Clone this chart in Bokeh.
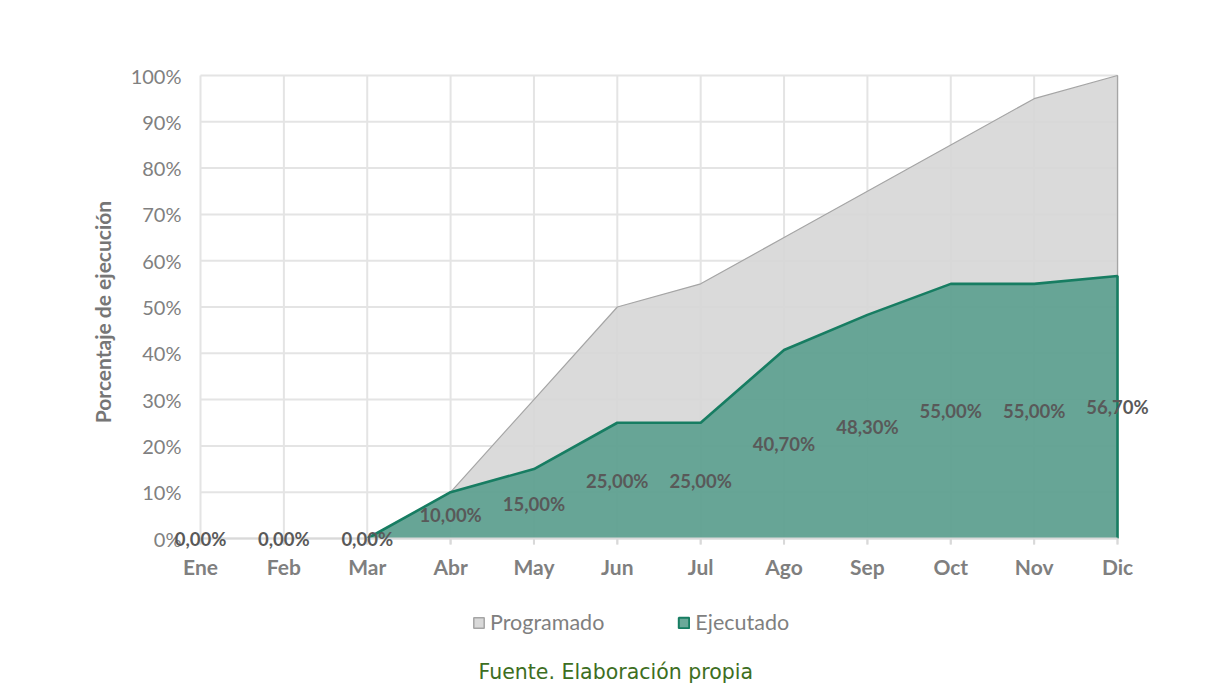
from bokeh.plotting import figure
from bokeh.models import (Range1d, FixedTicker, ColumnDataSource, LabelSet, Legend, LegendItem,
                          Label)
from bokeh.layouts import column
from bokeh.core.properties import value
from bokeh.embed import file_html
from bokeh.resources import INLINE

months = ["Ene", "Feb", "Mar", "Abr", "May", "Jun", "Jul", "Ago", "Sep", "Oct", "Nov", "Dic"]
programado = [0, 0, 0, 10, 30, 50, 55, 65, 75, 85, 95, 100]
ejecutado = [0, 0, 0, 10, 15, 25, 25, 40.7, 48.3, 55, 55, 56.7]
y_ticks = [0, 10, 20, 30, 40, 50, 60, 70, 80, 90, 100]
y_tick_labels = ["0%", "10%", "20%", "30%", "40%", "50%", "60%", "70%", "80%", "90%", "100%"]

FONT = "Lato"
x = list(range(len(months)))

# layout (page pixels)
W, H = 1214, 684
H1 = 590                     # chart block
H2 = H - H1                  # legend / source block
PLOT_L, PLOT_R, PLOT_T, PLOT_B = 200, 1117, 75, 538      # where Ene..Dic / 0..100 sit
PAD_L, PAD_R, PAD_T, PAD_B = 32, 40, 2, 12                # extra frame room for labels
TICK = 6                                                  # category tick length
px_per_x = (PLOT_R - PLOT_L) / (x[-1] - x[0])
px_per_y = (PLOT_B - PLOT_T) / (y_ticks[-1] - y_ticks[0])
x_range = Range1d(x[0] - PAD_L / px_per_x, x[-1] + PAD_R / px_per_x)
y_range = Range1d(y_ticks[0] - PAD_B / px_per_y, y_ticks[-1] + PAD_T / px_per_y)
FRAME_L = PLOT_L - PAD_L
FRAME_R = W - PLOT_R - PAD_R

# ---- chart ----
p = figure(width=W, height=H1, output_backend="svg", toolbar_location=None,
           x_range=x_range, y_range=y_range,
           min_border_left=FRAME_L, min_border_right=FRAME_R,
           min_border_top=PLOT_T - PAD_T, min_border_bottom=H1 - PLOT_B - PAD_B)
p.outline_line_color = None
p.background_fill_color = "white"
p.border_fill_color = "white"
p.grid.visible = False

# grid lines limited to the plot area (vertical ones run down as category ticks)
GRID = "#e4e4e4"
tick_low = y_ticks[0] - TICK / px_per_y
p.segment(x0=x, x1=x, y0=[tick_low] * len(x), y1=[y_ticks[-1]] * len(x),
          line_color=GRID, line_width=2)
p.segment(x0=[x[0]] * len(y_ticks), x1=[x[-1]] * len(y_ticks), y0=y_ticks, y1=y_ticks,
          line_color=GRID, line_width=2)

# areas
def polygon(vals):
    return x + [x[-1], x[0]], vals + [0, 0]

PROG_FILL, PROG_LINE = "#d9d9d9", "#a5a5a5"
EJEC_FILL, EJEC_LINE = "#6ba999", "#177d62"

prog_x, prog_y = polygon(programado)
p.patch(prog_x, prog_y, fill_color="#d6d6d6", fill_alpha=0.9, line_alpha=0)
ejec_x, ejec_y = polygon(ejecutado)
p.patch(ejec_x, ejec_y, fill_color="#5a9f8e", fill_alpha=0.9, line_alpha=0)

def outline(vals):
    start = next(i for i, v in enumerate(vals) if v > 0) - 1
    return x[start:] + [x[-1]], vals[start:] + [0]

ox, oy = outline(programado)
p.line(ox, oy, line_color=PROG_LINE, line_width=1.2)
ox, oy = outline(ejecutado)
p.line(ox, oy, line_color=EJEC_LINE, line_width=2.6)

# category axis base line and ticks
p.segment(x0=[x[0]], x1=[x[-1]], y0=[y_ticks[0]], y1=[y_ticks[0]], line_color="#d9d9d9", line_width=2)
p.segment(x0=x, x1=x, y0=[tick_low] * len(x), y1=[y_ticks[0]] * len(x),
          line_color="#d9d9d9", line_width=2)

# data labels
lab_src = ColumnDataSource(dict(
    x=x, y=[v / 2 for v in ejecutado],
    t=[("%.2f" % v).replace(".", ",") + "%" for v in ejecutado]))
p.add_layout(LabelSet(x="x", y="y", text="t", source=lab_src, text_align="center",
                      text_baseline="middle", text_font=value(FONT), text_font_style="bold",
                      text_font_size="18.5px", text_color="#595959"))

# axes
p.xaxis.ticker = FixedTicker(ticks=x)
p.yaxis.ticker = FixedTicker(ticks=y_ticks)
p.xaxis.major_label_overrides = {i: m for i, m in zip(x, months)}
p.yaxis.major_label_overrides = {t: l for t, l in zip(y_ticks, y_tick_labels)}
p.xaxis.axis_line_color = None
p.xaxis.major_tick_line_color = None
p.xaxis.major_tick_out = 0
p.xaxis.major_tick_in = 0
p.xaxis.minor_tick_line_color = None
p.xaxis.major_label_text_font = FONT
p.xaxis.major_label_text_font_style = "bold"
p.xaxis.major_label_text_font_size = "21px"
p.xaxis.major_label_text_color = "#7f7f7f"
p.xaxis.major_label_standoff = 3

p.yaxis.axis_line_color = None
p.yaxis.major_tick_line_color = None
p.yaxis.major_tick_out = 0
p.yaxis.major_tick_in = 0
p.yaxis.minor_tick_line_color = None
p.yaxis.major_label_text_font = FONT
p.yaxis.major_label_text_font_size = "20px"
p.yaxis.major_label_text_color = "#808080"
p.yaxis.major_label_standoff = FRAME_L - 181
p.yaxis.axis_label = "Porcentaje de ejecución"
p.yaxis.axis_label_text_font = FONT
p.yaxis.axis_label_text_font_style = "bold"
p.yaxis.axis_label_text_font_size = "21px"
p.yaxis.axis_label_text_color = "#767676"
p.yaxis.axis_label_standoff = 13

# ---- lower strip: legend and source note ----
p2 = figure(width=W, height=H2, output_backend="svg", toolbar_location=None,
            x_range=Range1d(0, W), y_range=Range1d(0, H2),
            x_axis_location=None, y_axis_location=None,
            min_border_left=FRAME_L, min_border_right=FRAME_R, min_border_top=0, min_border_bottom=0)
p2.outline_line_color = None
p2.grid.visible = False
p2.background_fill_color = "white"
p2.border_fill_color = "white"

r_prog = p2.patch(prog_x, prog_y, fill_color=PROG_FILL, line_color=PROG_LINE, line_width=1.5,
                  visible=False)
r_ejec = p2.patch(ejec_x, ejec_y, fill_color=EJEC_FILL, line_color=EJEC_LINE, line_width=2,
                  visible=False)
legend = Legend(items=[LegendItem(label="Programado", renderers=[r_prog]),
                       LegendItem(label="Ejecutado", renderers=[r_ejec])],
                orientation="horizontal", location=(472 - FRAME_L, H - 635), padding=0, margin=0,
                spacing=73, glyph_width=13, glyph_height=13, label_standoff=5,
                label_text_font=FONT, label_text_font_size="21.5px", label_text_color="#7f7f7f",
                border_line_alpha=0, background_fill_alpha=0, inactive_fill_alpha=0)
p2.add_layout(legend, "center")

p2.add_layout(Label(x=478 - FRAME_L, y=H - 671, x_units="screen", y_units="screen",
                    text="Fuente. Elaboración propia", text_align="left", text_baseline="middle",
                    text_font="DejaVu Sans", text_font_size="20.5px", text_color="#3d6e22"))

layout = column(p, p2, spacing=0)
open("out.html", "w").write(file_html(layout, INLINE))
